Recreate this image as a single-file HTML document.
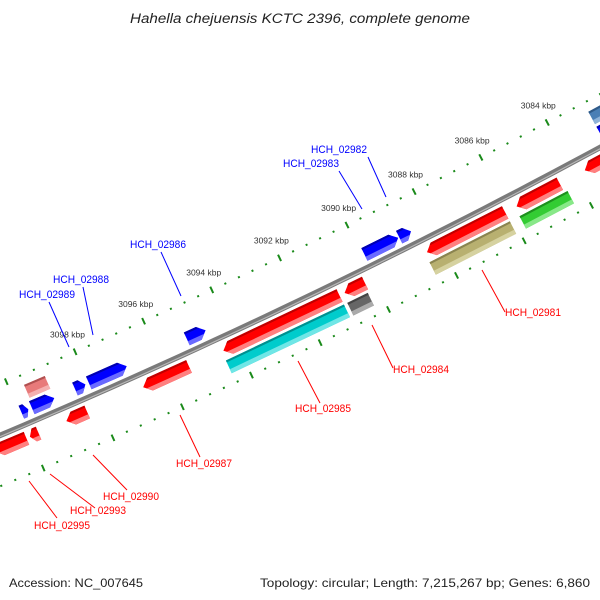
<!DOCTYPE html>
<html><head><meta charset="utf-8"><style>
html,body{margin:0;padding:0;background:#fff;}
svg{display:block;font-family:"Liberation Sans",sans-serif;}
</style></head><body>
<svg id="map" width="600" height="600" viewBox="0 0 600 600" xmlns="http://www.w3.org/2000/svg">
<text x="300" y="23" text-anchor="middle" font-size="13.5" font-style="italic" fill="#222" textLength="340" lengthAdjust="spacingAndGlyphs">Hahella chejuensis KCTC 2396, complete genome</text>
<g id="ticks"></g>
<g id="backbone"></g>
<g id="feats"></g>
<g id="labels"></g>
<text x="9" y="587" font-size="12" fill="#222" textLength="134" lengthAdjust="spacingAndGlyphs">Accession: NC_007645</text>
<text x="590" y="587" text-anchor="end" font-size="12" fill="#222" textLength="330" lengthAdjust="spacingAndGlyphs">Topology: circular; Length: 7,215,267 bp; Genes: 6,860</text>
</svg>
<script>
// ---- data (kbp) ----
const tickStart = 3081.2;
const tickEnd = 3102;
const tickLabels = [3084, 3086, 3088, 3090, 3092, 3094, 3096, 3098];
const featStarts = [3088.55, 3088.93, 3094.6, 3096.9, 3098.1, 3099.0, 3099.75, 3082.3,
                    3099.0, 3082.2,
                    3082.5, 3084.47, 3086.1, 3090.25, 3091.0, 3095.4, 3098.35, 3099.75, 3100.1,
                    3084.38, 3086.1, 3090.3, 3091.0];
const featEnds   = [3088.9, 3089.93, 3095.15, 3098.0, 3098.4, 3099.65, 3099.95, 3082.9,
                    3099.6, 3082.9,
                    3083.72, 3085.76, 3088.42, 3090.85, 3094.4, 3096.73, 3098.95, 3100.0, 3101.0,
                    3085.81, 3088.48, 3090.9, 3094.45];
const featRows   = [-1,-1,-1,-1,-1,-1,-1,-1, -2,-2, 1,1,1,1,1,1,1,1,1, 2,2,2,2];
const featColors = ['blue','blue','blue','blue','blue','blue','blue','blue',
                    'pink','steel',
                    'red','red','red','red','red','red','red','red','red',
                    'green','olive','gray','cyan'];
const featArrow  = ['R','R','R','R','R','R','R','R', '','', 'L','L','L','L','L','L','L','L','L', '','','',''];
const featNames  = ['HCH_02982','HCH_02983','HCH_02986','HCH_02988','HCH_02989','','','',
                    '','',
                    '','','HCH_02981','HCH_02984','HCH_02985','HCH_02987','HCH_02990','HCH_02993','HCH_02995',
                    '','','',''];
const labelPos = {
 'HCH_02982':[311,153,368,157,386,197], 'HCH_02983':[283,167,339,171,362,209],
 'HCH_02986':[130,248,161,252,181,296], 'HCH_02988':[53,283,83,287,93,335],
 'HCH_02989':[19,298,49,302,69,347], 'HCH_02981':[505,316,482,270,505,312],
 'HCH_02984':[393,373,372,325,393,368], 'HCH_02985':[295,412,298,361,320,403],
 'HCH_02987':[176,467,180,415,200,457], 'HCH_02990':[103,500,93,455,127,490],
 'HCH_02993':[70,514,50,474,95,508], 'HCH_02995':[34,529,29,481,57,518]
};
// ---- geometry ----
const CX=-2745, CY=-6055, PHI0=1.1240, K=37.5/7000, R_OUT=7000, R_BB=7047, R_IN=7094;
const NS='http://www.w3.org/2000/svg';
function pt(p,r){const a=PHI0+K*(p-3092);return [CX+r*Math.cos(a),CY+r*Math.sin(a)];}
function mk(tag,attrs,parent){const e=document.createElementNS(NS,tag);for(const k in attrs)e.setAttribute(k,attrs[k]);parent.appendChild(e);return e;}
const gT=document.getElementById('ticks'),gB=document.getElementById('backbone'),gF=document.getElementById('feats'),gL=document.getElementById('labels');
for(let i=0;;i++){
  const p=+(tickStart+i*0.4).toFixed(2); if(p>tickEnd)break;
  const major=Math.abs(p/2-Math.round(p/2))<1e-6;
  const half=major?3.5:1;
  [R_OUT,R_IN].forEach(R=>{
    const a=pt(p,R-half),b=pt(p,R+half);
    const l=mk('line',{x1:a[0],y1:a[1],x2:b[0],y2:b[1],stroke:'#1a8a1a','stroke-width':2},gT);
    
    
  });
}
tickLabels.forEach(v=>{
  const c=pt(v,R_OUT-19);
  const t=mk('text',{x:c[0],y:c[1]+3,'text-anchor':'middle','font-size':8.5,fill:'#333'},gT);
  t.textContent=v+' kbp';
  
  
});
(function(){let d='';for(let p=3079;p<=3104;p+=0.5){const q=pt(p,R_BB);d+=(d?'L':'M')+q[0].toFixed(1)+','+q[1].toFixed(1);}
 const a=mk('path',{d:d,fill:'none',stroke:'#7a7a7a','stroke-width':5.5},gB);
 
 
 const b=mk('path',{d:d,fill:'none',stroke:'#b8b8b8','stroke-width':1.2,transform:'translate(0.5,1)'},gB);
 
 
})();
const palette={red:['#ff0000','#c00000','#ff8080'],blue:['#0000ff','#0000b0','#6a6aff'],cyan:['#00cccc','#008f8f','#70e6e6'],
 olive:['#b8b070','#8a8450','#d6d2a0'],green:['#33cc33','#1e8f1e','#88e888'],gray:['#666666','#444444','#aaaaaa'],
 pink:['#e87a7a','#b05050','#f5b0b0'],steel:['#4a7fb5','#2f5a88','#8fb3d8']};
function rowRange(row){return row===-1?[R_BB-20,R_BB-6]:row===-2?[R_BB-37,R_BB-23]:row===1?[R_BB+6,R_BB+20]:[R_BB+23,R_BB+37];}
function shape(s,e,r0,r1,a,b,dir){
  const mid=(r0+r1)/2,half=(r1-r0)/2,t=Math.min(0.2,(e-s)/2);
  const d=r=>dir?t*Math.abs(r-mid)/half:0;
  const rs=[a];if(dir&&a<mid&&b>mid)rs.push(mid);rs.push(b);
  const P=[];
  if(dir==='L'){rs.forEach(r=>P.push(pt(e-d(r),r)));rs.slice().reverse().forEach(r=>P.push(pt(s,r)));}
  else if(dir==='R'){rs.forEach(r=>P.push(pt(s+d(r),r)));rs.slice().reverse().forEach(r=>P.push(pt(e,r)));}
  else{rs.forEach(r=>P.push(pt(s,r)));rs.slice().reverse().forEach(r=>P.push(pt(e,r)));}
  return P.map(q=>q[0].toFixed(1)+','+q[1].toFixed(1)).join(' ');
}
featStarts.forEach((s,i)=>{
  const e=featEnds[i],[r0,r1]=rowRange(featRows[i]),c=palette[featColors[i]],dir=featArrow[i];
  const g=mk('g',{},gF);
  
  
  const h=r1-r0;
  mk('polygon',{points:shape(s,e,r0,r1,r0,r1,dir),fill:c[0]},g);
  mk('polygon',{points:shape(s,e,r0,r1,r0,r0+h*0.15,dir),fill:c[1]},g);
  mk('polygon',{points:shape(s,e,r0,r1,r0+h*0.68,r1,dir),fill:c[2]},g);
});
featNames.forEach((n,i)=>{
  if(!n||!labelPos[n])return;
  const L=labelPos[n],col=featRows[i]<0?'#0000ff':'#ff0000';
  const ln=mk('line',{x1:L[2],y1:L[3],x2:L[4],y2:L[5],stroke:col,'stroke-width':1},gL);
  
  
  const t=mk('text',{x:L[0],y:L[1],'font-size':11,fill:col,textLength:56,lengthAdjust:'spacingAndGlyphs'},gL);
  t.textContent=n;
  
  
});
</script>
</body></html>
